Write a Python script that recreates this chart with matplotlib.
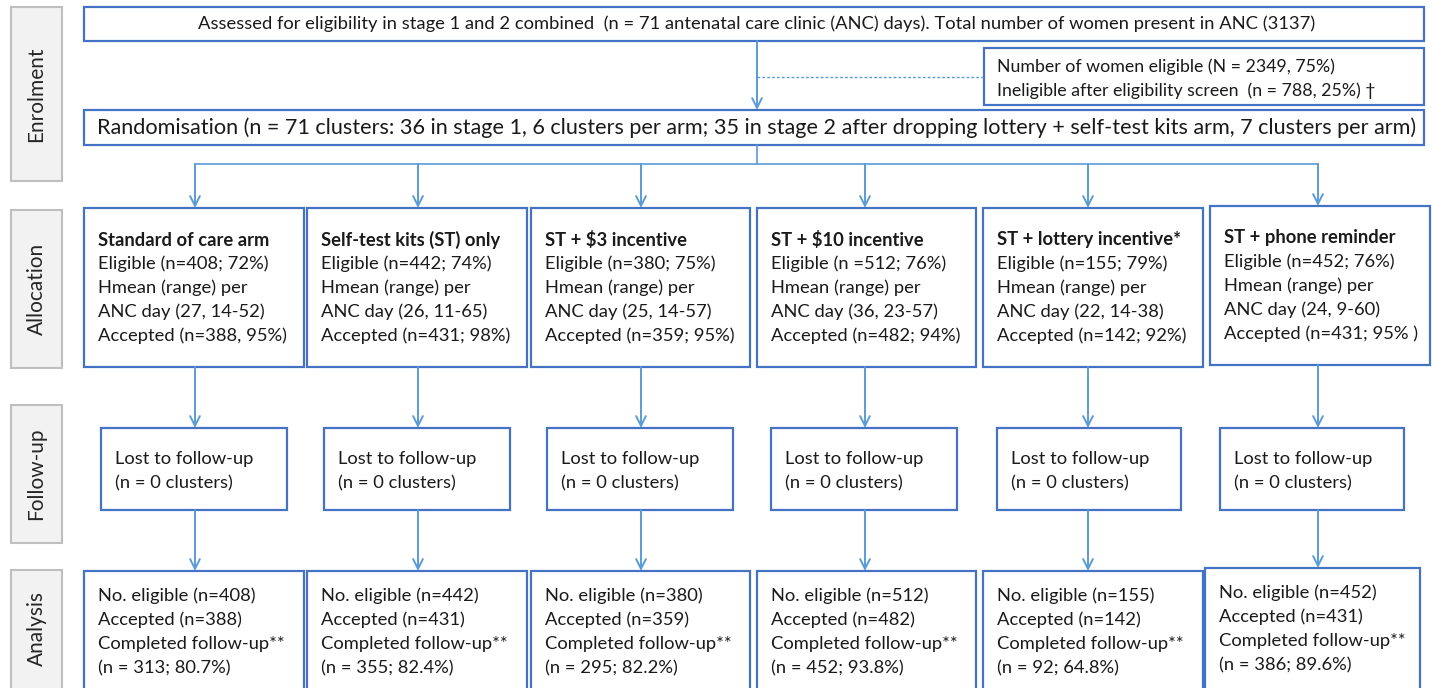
import matplotlib.pyplot as plt
from matplotlib.patches import Rectangle

plt.rcParams['font.family'] = ['Lato', 'DejaVu Sans']

# data
arms = ['Standard of care arm', 'Self-test kits (ST) only', 'ST + $3 incentive',
        'ST + $10 incentive', 'ST + lottery incentive*', 'ST + phone reminder']
eligible = ['(n=408; 72%)', '(n=442; 74%)', '(n=380; 75%)', '(n =512; 76%)',
            '(n=155; 79%)', '(n=452; 76%)']
hmean = ['(27, 14-52)', '(26, 11-65)', '(25, 14-57)', '(36, 23-57)',
         '(22, 14-38)', '(24, 9-60)']
accepted = ['(n=388, 95%)', '(n=431; 98%)', '(n=359; 95%)', '(n=482; 94%)',
            '(n=142; 92%)', '(n=431; 95% )']
lost = [0, 0, 0, 0, 0, 0]
no_elig = [408, 442, 380, 512, 155, 452]
no_acc = [388, 431, 359, 482, 142, 431]
completed = ['(n = 313; 80.7%)', '(n = 355; 82.4%)', '(n = 295; 82.2%)',
             '(n = 452; 93.8%)', '(n = 92; 64.8%)', '(n = 386; 89.6%)']
stages = ['Enrolment', 'Allocation', 'Follow-up', 'Analysis']

top_text = ('Assessed for eligibility in stage 1 and 2 combined  (n = 71 antenatal care clinic (ANC) days). '
            'Total number of women present in ANC (3137)')
side_text = ['Number of women eligible (N = 2349, 75%)',
             'Ineligible after eligibility screen  (n = 788, 25%) \u2020']
rand_text = ('Randomisation (n = 71 clusters: 36 in stage 1, 6 clusters per arm; 35 in stage 2 after dropping '
             'lottery + self-test kits arm, 7 clusters per arm)')

BOX = '#4472C4'
ARR = '#5B9BD5'
FS = 13.2
TXT = '#1a1a1a'

fig = plt.figure(figsize=(14.32, 6.88), dpi=100)
ax = fig.add_axes([0, 0, 1, 1])
ax.set_xlim(0, 1432)
ax.set_ylim(688, 0)
ax.axis('off')


def box(x0, y0, x1, y1, ec=BOX, fc='white', lw=1.6):
    ax.add_patch(Rectangle((x0, y0), x1 - x0, y1 - y0, fc=fc, ec=ec, lw=lw))


def arrow(x, y0, y1):
    ax.annotate('', xy=(x, y1), xytext=(x, y0),
                arrowprops=dict(arrowstyle='->,head_length=0.7,head_width=0.35',
                                color=ARR, lw=1.4, shrinkA=0, shrinkB=0))


# stage labels
stage_y = [(7, 181), (210, 368), (405, 543), (570, 695)]
for name, (y0, y1) in zip(stages, stage_y):
    box(11, y0, 62, y1, ec='#BFBFBF', fc='#F2F2F2', lw=1.5)
    ax.text(36.5, (y0 + min(y1, 688)) / 2, name, rotation=90, ha='center', va='center',
            fontsize=15, color='#262626')

# enrolment
box(84, 7, 1424, 41)
ax.text(757, 24, top_text, ha='center', va='center', fontsize=FS, color=TXT)
box(984, 48, 1424, 105)
ax.text(997, 67, side_text[0], ha='left', va='center', fontsize=12.8, color=TXT)
ax.text(997, 91, side_text[1], ha='left', va='center', fontsize=12.8, color=TXT)
ax.plot([757, 984], [77, 77], color=ARR, lw=1, ls=(0, (2, 1.5)))
arrow(757, 41, 110)
box(84, 110, 1424, 145)
ax.text(757, 128, rand_text, ha='center', va='center', fontsize=15.6, color=TXT)

# branches
centres = [195, 418, 641, 865, 1088, 1318]
ax.plot([757, 757], [145, 164], color=ARR, lw=1.2)
ax.plot([centres[0], centres[-1]], [164, 164], color=ARR, lw=1.2)

alloc_x = [(84, 304), (307, 527), (531, 750), (757, 976), (983, 1203), (1210, 1430)]
alloc_y = [(208, 367)] * 5 + [(206, 365)]
fu_x = [(101, 287), (324, 510), (547, 733), (771, 957), (997, 1181), (1220, 1404)]
an_x = [(84, 304), (307, 527), (531, 750), (757, 976), (983, 1203), (1205, 1420)]
an_y = [571] * 5 + [568]

for i, c in enumerate(centres):
    ax0, ax1 = alloc_x[i]
    ay0, ay1 = alloc_y[i]
    arrow(c, 164, ay0)
    box(ax0, ay0, ax1, ay1)
    tx = ax0 + 14
    base = ay0 + 32
    ax.text(tx, base, arms[i], ha='left', va='center', fontsize=FS, fontweight='bold', color=TXT)
    lines = ['Eligible ' + eligible[i], 'Hmean (range) per', 'ANC day ' + hmean[i],
             'Accepted ' + accepted[i]]
    for k, s in enumerate(lines):
        ax.text(tx, base + 24 * (k + 1), s, ha='left', va='center', fontsize=FS, color=TXT)

    arrow(c, ay1, 428)
    fx0, fx1 = fu_x[i]
    box(fx0, 428, fx1, 510)
    ax.text(fx0 + 14, 459, 'Lost to follow-up', ha='left', va='center', fontsize=FS, color=TXT)
    ax.text(fx0 + 14, 483, '(n = %d clusters)' % lost[i], ha='left', va='center', fontsize=FS,
            color=TXT)

    arrow(c, 510, an_y[i])
    nx0, nx1 = an_x[i]
    box(nx0, an_y[i], nx1, 700)
    ny = an_y[i] + 25
    alines = ['No. eligible (n=%d)' % no_elig[i], 'Accepted (n=%d)' % no_acc[i],
              'Completed follow-up**', completed[i]]
    for k, s in enumerate(alines):
        ax.text(nx0 + 14, ny + 24 * k, s, ha='left', va='center', fontsize=FS, color=TXT)

fig.savefig('out.png', dpi=100)
